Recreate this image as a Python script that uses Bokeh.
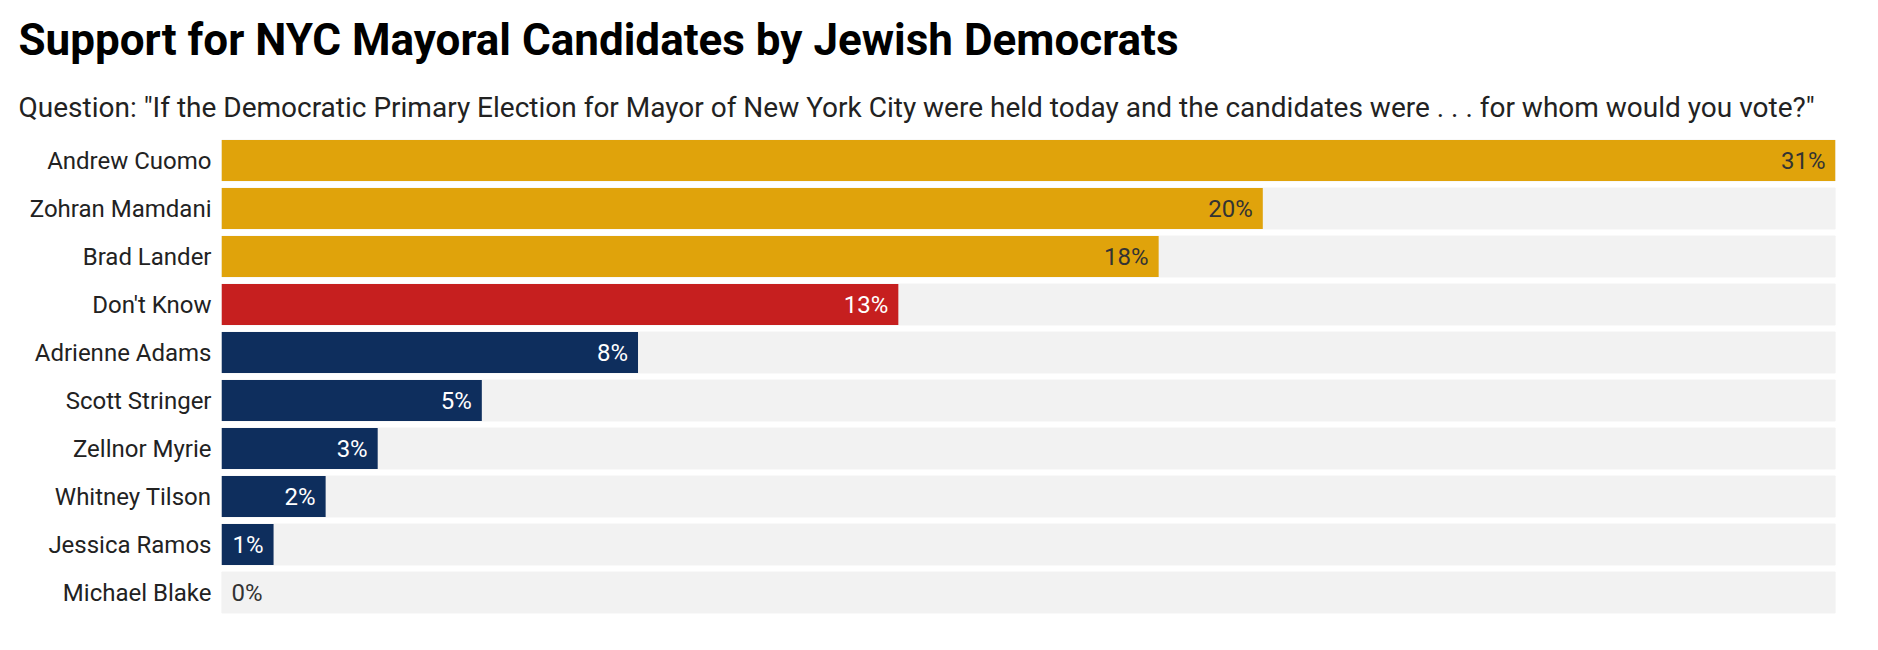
from bokeh.plotting import figure
from bokeh.models import ColumnDataSource, Range1d, FactorRange, Title
from bokeh.core.properties import value
from bokeh.embed import file_html
from bokeh.resources import INLINE

title_text = "Support for NYC Mayoral Candidates by Jewish Democrats"
subtitle_text = ('Question: "If the Democratic Primary Election for Mayor of New York City '
                 'were held today and the candidates were . . . for whom would you vote?"')

candidates = ["Andrew Cuomo", "Zohran Mamdani", "Brad Lander", "Don't Know",
              "Adrienne Adams", "Scott Stringer", "Zellnor Myrie", "Whitney Tilson",
              "Jessica Ramos", "Michael Blake"]
support = [31, 20, 18, 13, 8, 5, 3, 2, 1, 0]
bar_colors = ["#e0a30b", "#e0a30b", "#e0a30b", "#c61f1f",
              "#0e2e5d", "#0e2e5d", "#0e2e5d", "#0e2e5d", "#0e2e5d", "#0e2e5d"]
label_colors = ["#333333", "#333333", "#333333", "#ffffff",
                "#ffffff", "#ffffff", "#ffffff", "#ffffff", "#ffffff", "#333333"]

FONT = "Roboto"
W, H = 1862, 634
LEFT, RIGHT, TOP, BOTTOM = 221, 27, 136, 18
xmax = max(support)

src = ColumnDataSource(dict(
    cand=candidates,
    val=support,
    full=[xmax] * len(support),
    color=bar_colors,
    lcolor=label_colors,
    txt=[f"{v}%" for v in support],
    align=["right" if v > 0 else "left" for v in support],
    off=[-10 if v > 0 else 10 for v in support],
))

p = figure(width=W, height=H, output_backend="svg", toolbar_location=None,
           x_range=Range1d(0, xmax), y_range=FactorRange(factors=candidates[::-1]),
           min_border_left=LEFT, min_border_right=RIGHT, min_border_top=TOP,
           min_border_bottom=BOTTOM, x_axis_location=None)
p.outline_line_color = None
p.xgrid.visible = False
p.ygrid.visible = False
p.background_fill_color = "white"
p.border_fill_color = "white"

p.hbar(y="cand", left=0, right="full", height=0.854, color="#f2f2f2", source=src)
p.hbar(y="cand", left=0, right="val", height=0.854, fill_color="color",
       line_color=None, source=src)
p.text(x="val", y="cand", text="txt", text_align="align", x_offset="off",
       text_baseline="middle", text_color="lcolor", text_font=value(FONT),
       text_font_size="24px", source=src)

ax = p.yaxis[0]
ax.axis_line_color = None
ax.major_tick_line_color = None
ax.minor_tick_line_color = None
ax.major_tick_out = 0
ax.major_tick_in = 0
ax.major_label_standoff = 10
ax.major_label_text_font = FONT
ax.major_label_text_font_size = "24px"
ax.major_label_text_color = "#222222"

# subtitle first (closest to the frame), then the title above it
p.add_layout(Title(text=subtitle_text, text_font=FONT, text_font_size="28px",
                   text_font_style="normal", text_color="#222222", align="left",
                   offset=18 - LEFT, standoff=26), "above")
p.add_layout(Title(text=title_text, text_font=FONT, text_font_size="44px",
                   text_font_style="bold", text_color="#000000", align="left",
                   offset=18 - LEFT, standoff=19), "above")

open("out.html", "w").write(file_html(p, INLINE))
